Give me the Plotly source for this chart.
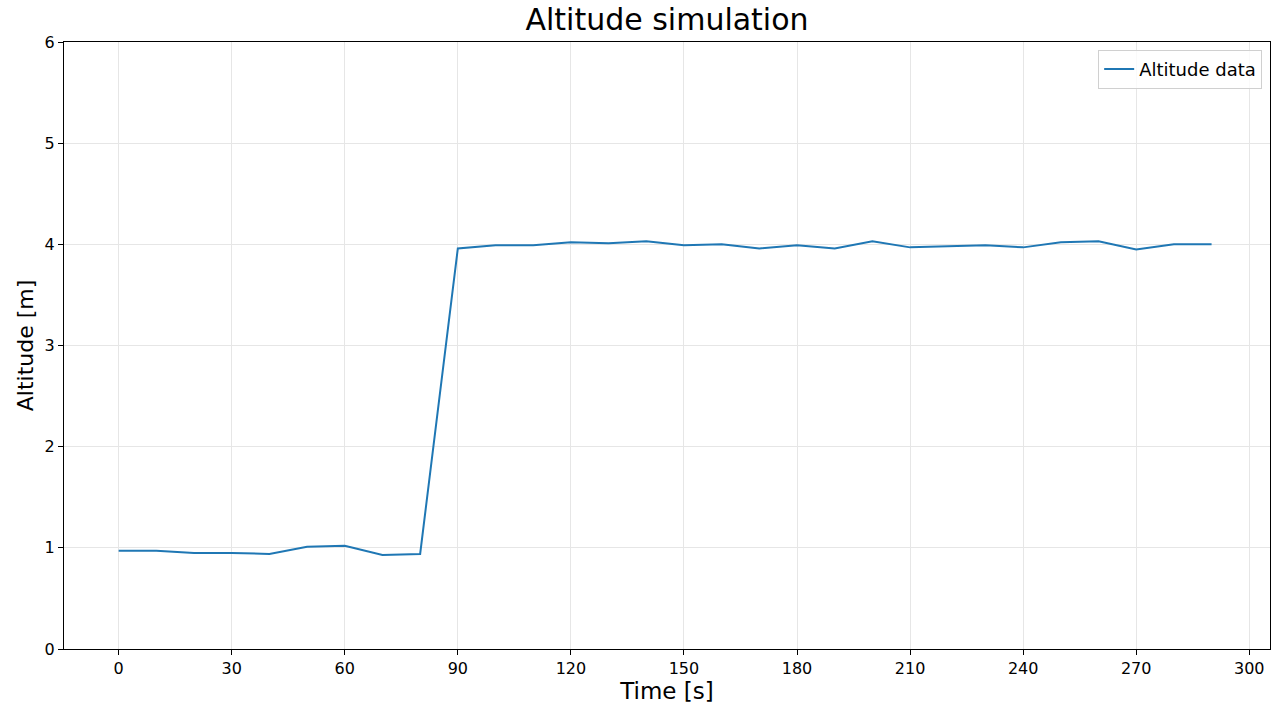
import plotly.graph_objects as go

time_s = list(range(0, 300, 10))
altitude_m = [0.97, 0.97, 0.95, 0.95, 0.94, 1.01, 1.02, 0.93, 0.94,
              3.96, 3.99, 3.99, 4.02, 4.01, 4.03, 3.99, 4.00, 3.96, 3.99, 3.96,
              4.03, 3.97, 3.98, 3.99, 3.97, 4.02, 4.03, 3.95, 4.00, 4.00]
x_ticks = list(range(0, 301, 30))
y_ticks = list(range(0, 7))

fig = go.Figure()
fig.add_trace(go.Scatter(x=time_s, y=altitude_m, mode="lines", name="Altitude data",
                         line=dict(color="#1f77b4", width=2)))

font = "DejaVu Sans"
axis_common = dict(showline=True, linecolor="black", linewidth=1, mirror=True,
                   ticks="outside", ticklen=5, tickcolor="black",
                   showgrid=True, gridcolor="#e6e6e6", gridwidth=1, zeroline=False,
                   tickfont=dict(family=font, size=16, color="black"))

fig.update_layout(
    width=1284, height=711,
    paper_bgcolor="white", plot_bgcolor="white",
    margin=dict(l=64, r=14, t=42, b=62),
    title=dict(text="Altitude simulation", xref="paper", x=0.5, xanchor="center",
               y=0.972, yanchor="middle",
               font=dict(family=font, size=30, color="black")),
    xaxis=dict(range=[-14.5, 305.5], tickvals=x_ticks,
               title=dict(text="Time [s]", font=dict(family=font, size=23, color="black"), standoff=3),
               **axis_common),
    yaxis=dict(range=[0, 6], tickvals=y_ticks,
               title=dict(text="Altitude [m]", font=dict(family=font, size=22, color="black"), standoff=4),
               **axis_common),
    showlegend=True,
    legend=dict(x=0.9935, y=0.987, xanchor="right", yanchor="top",
                bordercolor="#d0d0d0", borderwidth=1, bgcolor="rgba(255,255,255,0.8)",
                font=dict(family=font, size=18, color="black")),
)

fig.write_html("out.html")
